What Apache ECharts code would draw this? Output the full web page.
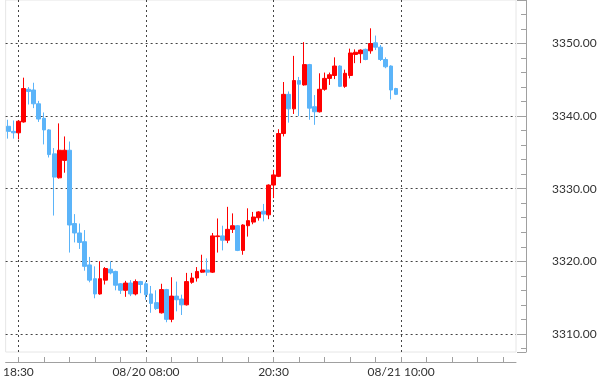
<!DOCTYPE html>
<html><head><meta charset="utf-8">
<script src="https://cdn.jsdelivr.net/npm/echarts@6/dist/echarts.min.js"></script>
<style>html,body{margin:0;padding:0;background:#fff}#c{width:600px;height:381px}</style>
</head><body><div id="c"></div>
<script>
const categories = [
'08/19 17:30','08/19 18:00','08/19 18:30','08/19 19:00','08/19 19:30','08/19 20:00','08/19 20:30','08/19 21:00','08/19 21:30','08/19 22:00',
'08/19 22:30','08/19 23:00','08/19 23:30','08/20 00:00','08/20 00:30','08/20 01:00','08/20 01:30','08/20 02:00','08/20 02:30','08/20 03:00',
'08/20 03:30','08/20 04:00','08/20 04:30','08/20 06:00','08/20 06:30','08/20 07:00','08/20 07:30','08/20 08:00','08/20 08:30','08/20 09:00',
'08/20 09:30','08/20 10:00','08/20 10:30','08/20 11:00','08/20 11:30','08/20 12:00','08/20 12:30','08/20 13:00','08/20 13:30','08/20 14:00',
'08/20 14:30','08/20 15:00','08/20 15:30','08/20 16:00','08/20 16:30','08/20 17:00','08/20 17:30','08/20 18:00','08/20 18:30','08/20 19:00',
'08/20 19:30','08/20 20:00','08/20 20:30','08/20 21:00','08/20 21:30','08/20 22:00','08/20 22:30','08/20 23:00','08/20 23:30','08/21 00:00',
'08/21 00:30','08/21 01:00','08/21 01:30','08/21 02:00','08/21 02:30','08/21 03:00','08/21 03:30','08/21 04:00','08/21 04:30','08/21 06:00',
'08/21 06:30','08/21 07:00','08/21 07:30','08/21 08:00','08/21 08:30','08/21 09:00','08/21 09:30','08/21 10:00','08/21 10:30','08/21 11:00',
'08/21 11:30','08/21 12:00','08/21 12:30','08/21 13:00','08/21 13:30','08/21 14:00','08/21 14:30','08/21 15:00','08/21 15:30','08/21 16:00',
'08/21 16:30','08/21 17:00','08/21 17:30','08/21 18:00','08/21 18:30','08/21 19:00','08/21 19:30','08/21 20:00','08/21 20:30','08/21 21:00'
];
const opens = [
3338.6,3337.9,3337.7,3339.2,3343.7,3343.6,3341.7,3339.7,3338.1,3334.8,
3331.5,3333.9,3335.3,3325.2,3323.9,3322.7,3319.5,3317.6,3315.5,3317.4,
3318.9,3318.6,3316.9,3316.0,3317.0,3315.5,3317.2,3316.9,3315.5,3314.3,
3312.9,3316.1,3312.0,3315.2,3314.8,3314.0,3317.1,3317.7,3318.5,3318.8,
3318.5,3323.4,3323.5,3322.9,3324.4,3324.9,3321.5,3324.9,3325.4,3326.0,
3326.9,3326.4,3330.5,3331.7,3337.6,3343.0,3341.0,3344.9,3344.3,3347.1,
3341.3,3340.6,3343.7,3345.2,3345.6,3346.9,3344.1,3345.6,3348.5,3348.6,
3349.2,3349.0,3350.1,3349.5,3347.8,3346.9,3343.8
];
const closes = [
3337.9,3337.7,3339.3,3343.8,3343.4,3341.7,3339.6,3338.1,3334.7,3331.6,
3335.3,3335.3,3325.0,3323.9,3322.6,3319.3,3317.4,3315.5,3317.6,3319.0,
3318.4,3316.7,3316.0,3317.0,3315.5,3317.2,3316.8,3315.4,3314.2,3313.5,
3316.1,3312.0,3315.2,3314.7,3314.0,3317.2,3317.7,3318.6,3318.8,3318.5,
3323.5,3323.5,3322.9,3324.4,3324.9,3321.5,3325.0,3325.6,3326.1,3326.8,
3326.5,3330.5,3331.9,3337.6,3343.0,3341.0,3344.9,3344.4,3347.1,3341.1,
3340.6,3343.7,3345.2,3345.7,3346.9,3344.1,3345.9,3348.7,3348.8,3349.1,
3347.8,3350.0,3349.5,3347.8,3346.8,3343.6,3343.0
];
const lows = [
3336.9,3336.9,3336.8,3339.1,3341.6,3341.1,3339.2,3336.1,3334.3,3326.3,
3331.4,3332.2,3321.2,3322.6,3321.7,3318.7,3317.1,3314.9,3315.4,3316.8,
3318.2,3316.0,3315.5,3315.1,3315.2,3315.3,3315.6,3314.7,3312.9,3313.3,
3312.8,3311.6,3311.6,3313.1,3312.6,3313.9,3316.9,3317.2,3318.4,3318.0,
3318.4,3321.2,3321.5,3322.5,3323.9,3321.4,3320.9,3323.4,3325.1,3325.6,
3325.5,3325.8,3328.7,3331.6,3337.2,3339.1,3340.3,3340.0,3344.2,3339.5,
3338.8,3340.5,3343.5,3344.3,3345.1,3344.0,3343.9,3345.2,3347.3,3347.3,
3347.7,3348.6,3349.1,3347.6,3346.6,3342.3,3342.9
];
const highs = [
3339.5,3339.4,3339.4,3345.3,3344.0,3344.6,3342.1,3340.5,3338.2,3335.6,
3339.0,3337.2,3336.5,3326.5,3325.2,3324.3,3320.6,3319.3,3320.0,3319.2,
3320.0,3318.7,3317.0,3317.3,3317.4,3317.5,3317.3,3317.2,3316.6,3316.0,
3316.9,3316.2,3317.8,3317.2,3315.4,3318.4,3318.4,3319.2,3320.9,3320.4,
3323.9,3325.9,3324.9,3327.5,3326.6,3325.0,3325.1,3327.3,3326.8,3326.9,
3327.9,3330.6,3332.6,3338.2,3344.7,3343.4,3348.3,3345.4,3350.2,3347.2,
3342.9,3345.9,3346.0,3346.0,3348.1,3347.0,3346.4,3349.3,3349.2,3349.2,
3349.3,3352.1,3351.1,3349.8,3348.1,3347.0,3343.9
];
const xTickIndex = [2, 27, 52, 77];
const xTickLabels = ['18:30', '08/20 08:00', '20:30', '08/21 10:00'];

const candles = opens.map((o, i) => [o, closes[i], lows[i], highs[i]]);
const gridLine = { color: '#444', width: 1, type: [2, 3] };
const axisGrey = '#a0a0a0';
const font = 'Lato, "DejaVu Sans", sans-serif';

const chart = echarts.init(document.getElementById('c'), null, { renderer: 'canvas' });
chart.setOption({
  animation: false,
  backgroundColor: '#fff',
  grid: { left: 0, right: 84, top: 0, bottom: 29, show: true, borderColor: '#e6e6e6', borderWidth: 1 },
  xAxis: {
    type: 'category', data: categories, boundaryGap: true, offset: 10,
    axisLine: { show: true, lineStyle: { color: axisGrey } },
    axisTick: { show: true, inside: true, length: 5, alignWithLabel: true,
      interval: (i) => (i - 2) % 5 === 0, lineStyle: { color: axisGrey } },
    axisLabel: { interval: (i) => xTickIndex.includes(i),
      formatter: (v, i) => xTickLabels[xTickIndex.indexOf(i)] || '',
      margin: 4, color: '#333', fontFamily: font, fontSize: 12 },
    splitLine: { show: false }
  },
  yAxis: {
    type: 'value', position: 'right', offset: 10, min: 3307.5, max: 3356, splitNumber: 5,
    axisLine: { show: true, lineStyle: { color: axisGrey } },
    axisTick: { show: true, inside: true, length: 9, lineStyle: { color: axisGrey } },
    minorTick: { show: true, splitNumber: 5, length: 5, lineStyle: { color: axisGrey } },
    axisLabel: { margin: 26, color: '#333', fontFamily: font, fontSize: 12,
      formatter: (v) => v.toFixed(2), showMinLabel: false, showMaxLabel: false },
    splitLine: { show: true, showMinLine: false, showMaxLine: false, lineStyle: gridLine }
  },
  series: [{
    type: 'candlestick', data: candles, barWidth: 4.3, z: 2,
    itemStyle: { color: '#ff0000', color0: '#5bb4f9', borderColor: '#ff0000', borderColor0: '#5bb4f9', borderWidth: 1 },
    markLine: {
      z: 1, silent: true, symbol: ['none', 'none'], label: { show: false },
      lineStyle: gridLine,
      data: xTickIndex.map((i) => ({ xAxis: categories[i] }))
    }
  }]
});
</script></body></html>
